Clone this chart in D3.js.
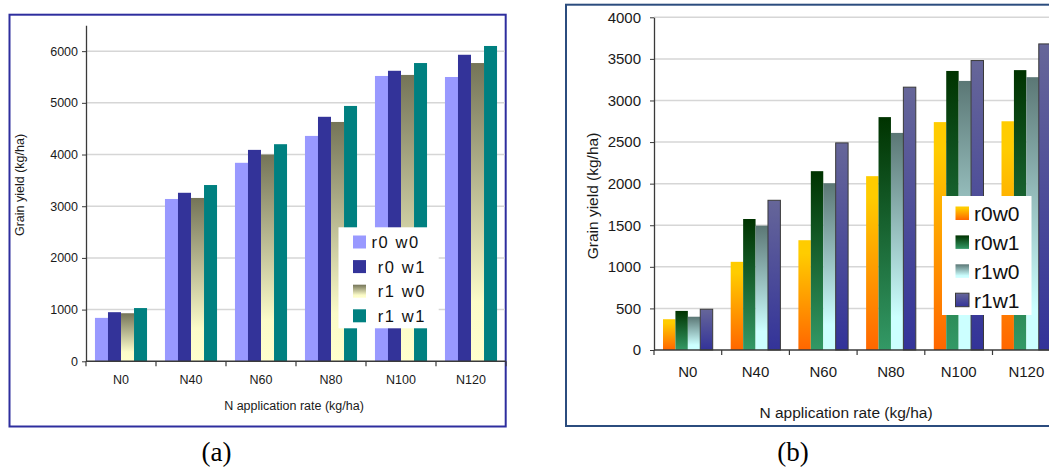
<!DOCTYPE html>
<html><head><meta charset="utf-8">
<script src="https://cdn.jsdelivr.net/npm/d3@7"></script>
<style>
html,body{margin:0;padding:0;background:#fff;}
svg{display:block;font-family:"Liberation Sans",Arial,sans-serif;}
</style></head>
<body>
<svg id="c" width="1049" height="472"></svg>
<script>
// ---- data ----
const categories = ["N0","N40","N60","N80","N100","N120"];
const seriesA = ["r0 w0"," r0 w1"," r1 w0"," r1 w1"];
const yieldA_r0w0 = [840,3140,3840,4360,5520,5500];
const yieldA_r0w1 = [950,3260,4090,4730,5620,5930];
const yieldA_r1w0 = [930,3160,4000,4630,5540,5770];
const yieldA_r1w1 = [1030,3410,4200,4940,5770,6100];
const ticksA = [0,1000,2000,3000,4000,5000,6000];
const seriesB = ["r0w0","r0w1","r1w0","r1w1"];
const yieldB_r0w0 = [370,1060,1320,2090,2740,2750];
const yieldB_r0w1 = [470,1575,2150,2800,3355,3365];
const yieldB_r1w0 = [400,1495,2005,2610,3235,3280];
const yieldB_r1w1 = [490,1800,2490,3160,3480,3680];
const ticksB = [0,500,1000,1500,2000,2500,3000,3500,4000];
const yTitle = "Grain yield (kg/ha)";
const xTitle = "N application rate (kg/ha)";

const svg = d3.select("#c");
const defs = svg.append("defs");
function grad(id, stops){
  const g = defs.append("linearGradient").attr("id",id)
    .attr("x1",0).attr("y1",0).attr("x2",0).attr("y2",1);
  stops.forEach(s=>g.append("stop").attr("offset",s[0]).attr("stop-color",s[1]));
  return "url(#"+id+")";
}
const gA3 = grad("gA3",[[0,"#747458"],[0.8,"#fbfbc8"],[1,"#ffffcc"]]);
const gB1 = grad("gB1",[[0,"#ffcc00"],[0.12,"#ffcc00"],[1,"#ff6600"]]);
const gB2 = grad("gB2",[[0,"#003300"],[1,"#339966"]]);
const gB3 = grad("gB3",[[0,"#5b7775"],[0.85,"#ccffff"],[1,"#ccffff"]]);
const gB4 = grad("gB4",[[0,"#666699"],[1,"#333399"]]);

function drawChart(cfg){
  const g = svg.append("g");
  // frame
  g.append("rect").attr("x",cfg.frame[0]).attr("y",cfg.frame[1])
    .attr("width",cfg.frame[2]-cfg.frame[0]).attr("height",cfg.frame[3]-cfg.frame[1])
    .attr("fill","#fff").attr("stroke",cfg.frameColor).attr("stroke-width",2);

  const y = d3.scaleLinear().domain([0,cfg.yMax]).range([cfg.y0,cfg.yTop]);
  const x0 = d3.scaleBand().domain(categories).range([cfg.xLeft,cfg.xLeft+cfg.band*categories.length]).padding(0);
  const bw = x0.bandwidth();
  const pad = bw*cfg.padFrac;
  const x1 = d3.scaleBand().domain(cfg.series.map((s,i)=>i)).range([pad,bw-pad]).padding(0);

  // gridlines
  g.selectAll(".grid").data(cfg.ticks.filter(t=>t>0)).join("line")
    .attr("x1",cfg.xLeft).attr("x2",cfg.gridRight)
    .attr("y1",d=>y(d)).attr("y2",d=>y(d))
    .attr("stroke","#d6d6d6").attr("stroke-width",1.5);

  // bars
  cfg.values.forEach((vals,si)=>{
    g.append("g").selectAll("rect").data(vals).join("rect")
      .attr("x",(d,i)=>x0(categories[i])+x1(si))
      .attr("y",d=>y(d))
      .attr("width",x1.bandwidth())
      .attr("height",d=>y(0)-y(d))
      .attr("fill",cfg.fills[si])
      .attr("stroke",cfg.strokes[si]).attr("stroke-width",1);
  });

  // y axis
  const ya = g.append("g").attr("transform","translate("+cfg.xLeft+",0)")
    .call(d3.axisLeft(y).tickValues(cfg.ticks).tickFormat(d3.format("d"))
      .tickSize(4).tickSizeOuter(0).tickPadding(cfg.tickPad));
  ya.select(".domain").attr("stroke","#3a3a3a").attr("stroke-width",1.3);
  ya.selectAll(".tick line").attr("stroke","#3a3a3a");
  ya.selectAll(".tick text").attr("font-size",cfg.fs).attr("fill","#1a1a1a")
    .attr("font-family","Liberation Sans, Arial, sans-serif");

  // x axis
  const xEnd = cfg.xLeft+cfg.band*categories.length;
  g.append("line").attr("x1",cfg.xLeft).attr("x2",xEnd).attr("y1",y(0)).attr("y2",y(0))
    .attr("stroke","#3a3a3a").attr("stroke-width",1.5);
  const bounds = categories.map(c=>x0(c)).concat([xEnd]);
  g.selectAll(".xt").data(bounds).join("line")
    .attr("x1",d=>d).attr("x2",d=>d).attr("y1",y(0)).attr("y2",y(0)+5)
    .attr("stroke","#3a3a3a").attr("stroke-width",1.2);
  g.selectAll(".xl").data(categories).join("text")
    .attr("x",d=>x0(d)+bw/2).attr("y",cfg.xLabelY)
    .attr("text-anchor","middle").attr("font-size",cfg.fs).attr("fill","#1a1a1a").text(d=>d);

  // titles
  g.append("text").attr("x",cfg.xTitle[0]).attr("y",cfg.xTitle[1]).attr("text-anchor","middle")
    .attr("font-size",cfg.fsTitle).attr("fill","#1a1a1a").text(xTitle);
  g.append("text").attr("transform","translate("+cfg.yTitle[0]+","+cfg.yTitle[1]+") rotate(-90)")
    .attr("text-anchor","middle").attr("font-size",cfg.fsTitle).attr("fill","#1a1a1a").text(yTitle);

  // legend
  const L = cfg.legend;
  g.append("rect").attr("x",L.box[0]).attr("y",L.box[1]).attr("width",L.box[2]-L.box[0])
    .attr("height",L.box[3]-L.box[1]).attr("fill","#fff");
  cfg.series.forEach((s,i)=>{
    const yy = L.rowY + i*L.rowStep;
    g.append("rect").attr("x",L.swX).attr("y",yy).attr("width",L.sw).attr("height",L.sw)
      .attr("fill",cfg.fills[i]).attr("stroke",cfg.strokes[i]).attr("stroke-width",1);
    g.append("text").attr("x",L.textX).attr("y",yy+L.sw/2+L.fs*0.36)
      .attr("font-size",L.fs).attr("letter-spacing",L.ls).attr("fill","#111")
      .style("white-space","pre").text(s);
  });

  // caption
  g.append("text").attr("x",cfg.caption[0]).attr("y",cfg.caption[1]).attr("text-anchor","middle")
    .attr("font-family","Liberation Serif, Times New Roman, serif").attr("font-size",27)
    .attr("fill","#000").text(cfg.captionText);
}

drawChart({
  frame:[9.5,14.7,505.7,426.5], frameColor:"#2e2e9e",
  yMax:6500, y0:361.3, yTop:25.3, xLeft:86, band:70, padFrac:0.128, gridRight:505,
  ticks:ticksA, series:seriesA,
  values:[yieldA_r0w0,yieldA_r0w1,yieldA_r1w0,yieldA_r1w1],
  fills:["#9999ff","#333399",gA3,"#008080"], strokes:["none","none","none","none"],
  fs:12.5, fsTitle:12.5, tickPad:4, xLabelY:383.5,
  xTitle:[294,409.5], yTitle:[24,185],
  legend:{box:[338.5,227.3,438.7,328.3], swX:353, sw:13, rowY:235.5, rowStep:24.6, textX:371.5, fs:16.5, ls:1.6},
  caption:[216.5,461], captionText:"(a)"
});
drawChart({
  frame:[566,4.7,1062,426], frameColor:"#2b4c7e",
  yMax:4000, y0:350, yTop:17.3, xLeft:654, band:67.7, padFrac:0.133, gridRight:1060,
  ticks:ticksB, series:seriesB,
  values:[yieldB_r0w0,yieldB_r0w1,yieldB_r1w0,yieldB_r1w1],
  fills:[gB1,gB2,gB3,gB4], strokes:["none","none","none","#3a3a3a"],
  fs:15, fsTitle:15.5, tickPad:9, xLabelY:377,
  xTitle:[846,417.5], yTitle:[598,196],
  legend:{box:[942,196,1031.5,315], swX:955.5, sw:13.5, rowY:206.5, rowStep:28.9, textX:974, fs:21, ls:0},
  caption:[793,461], captionText:"(b)"
});
</script>
</body></html>
